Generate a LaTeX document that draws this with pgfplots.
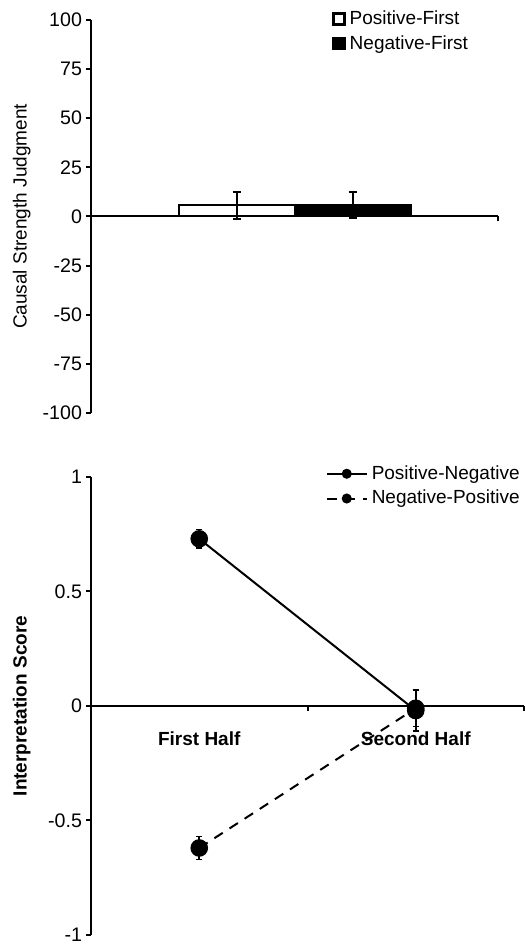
\documentclass[border=0pt]{standalone}
\usepackage{pgfplots}
\pgfplotsset{compat=1.18}
\usepackage{fontspec}
\setmainfont{Liberation Sans}

\begin{document}
\begin{tikzpicture}
\pgfplotsset{
  chartbase/.style={
    scale only axis,
    axis y line=left, axis x line=middle,
    axis line style={-, line width=1pt, black},
    hide obscured x ticks=false, hide obscured y ticks=false,
    tick align=outside, major tick length=2.5pt,
    tick style={line width=1pt, black},
    tick label style={font=\fontsize{9.8}{11.8}\selectfont},
    yticklabel style={xshift=1.5pt},
    label style={font=\fontsize{9.5}{11.4}\selectfont},
    legend style={font=\fontsize{9.5}{11.4}\selectfont, draw=none, fill=none,
      inner sep=0pt, row sep=0pt, cells={anchor=west}},
  },
}
% top panel: causal strength
\begin{axis}[chartbase,
  at={(45.5pt,266pt)}, anchor=south west,
  width=203.5pt, height=196.5pt,
  xmin=0, xmax=1, ymin=-100, ymax=100,
  ytick={-100,-75,...,100},
  yticklabels={-100,-75,-50,-25,0,25,50,75,100},
  xtick={1}, xticklabels={},
  ylabel={Causal Strength Judgment},
  ylabel style={at={(axis description cs:-0.17,0.5)}, anchor=center},
  ybar=0pt, bar width=58pt,
  legend style={at={(axis description cs:0.592,1.035)}, anchor=north west},
  legend image code/.code={\draw[#1, line width=1.3pt] (0pt,-2.7pt) rectangle (5.4pt,2.7pt);},
]
\addplot[fill=white, draw=black, line width=1pt,
  error bars/.cd, y dir=both, y explicit,
  error bar style={line width=1pt, black},
  error mark options={rotate=90, mark size=2pt, line width=1pt}]
  coordinates {(0.5,5.6) +- (0,6.8)};
\addplot[fill=black, draw=black, line width=1pt,
  error bars/.cd, y dir=both, y explicit,
  error bar style={line width=1pt, black},
  error mark options={rotate=90, mark size=2pt, line width=1pt}]
  coordinates {(0.5,5.9) +- (0,6.8)};
\legend{Positive-First, Negative-First}
\end{axis}

% bottom panel: interpretation score
\begin{axis}[chartbase,
  at={(45.5pt,5pt)}, anchor=south west,
  width=216.5pt, height=229pt,
  xmin=0, xmax=2, ymin=-1, ymax=1,
  ytick={-1,-0.5,0,0.5,1},
  yticklabels={-1,-0.5,0,0.5,1},
  xtick={0,1,2}, x tick label as interval,
  xticklabels={First Half, Second Half},
  xticklabel style={font=\fontsize{9.5}{11.4}\selectfont\bfseries, yshift=-7pt, xshift=0pt},
  ylabel={\bfseries Interpretation Score},
  ylabel style={at={(axis description cs:-0.16,0.5)}, anchor=center},
  clip=false,
  legend style={at={(axis description cs:1.0,1.035)}, anchor=north east},
  legend image code/.code={\draw[mark repeat=2, mark phase=2, #1]
    plot coordinates {(0pt,0pt) (10pt,0pt) (20pt,0pt)};},
  legend image post style={mark size=2pt},
]
\addplot[black, line width=1pt, mark=*, mark size=3.9pt,
  error bars/.cd, y dir=both, y explicit,
  error bar style={line width=0.8pt, black, solid},
  error mark options={rotate=90, mark size=1.6pt, line width=0.8pt, solid}]
  coordinates {(0.5,0.73) +- (0,0.04) (1.5,-0.02) +- (0,0.09)};
\addplot[black, line width=1pt, dash pattern=on 5pt off 4pt,
  mark=*, mark size=3.9pt, mark options={solid},
  error bars/.cd, y dir=both, y explicit,
  error bar style={line width=0.8pt, black, solid},
  error mark options={rotate=90, mark size=1.6pt, line width=0.8pt, solid}]
  coordinates {(0.5,-0.62) +- (0,0.05) (1.5,-0.01) +- (0,0.08)};
\legend{Positive-Negative, Negative-Positive}
\end{axis}
\pgfresetboundingbox
\path[use as bounding box] (0,0) rectangle (262pt,472.5pt);
\end{tikzpicture}
\end{document}
